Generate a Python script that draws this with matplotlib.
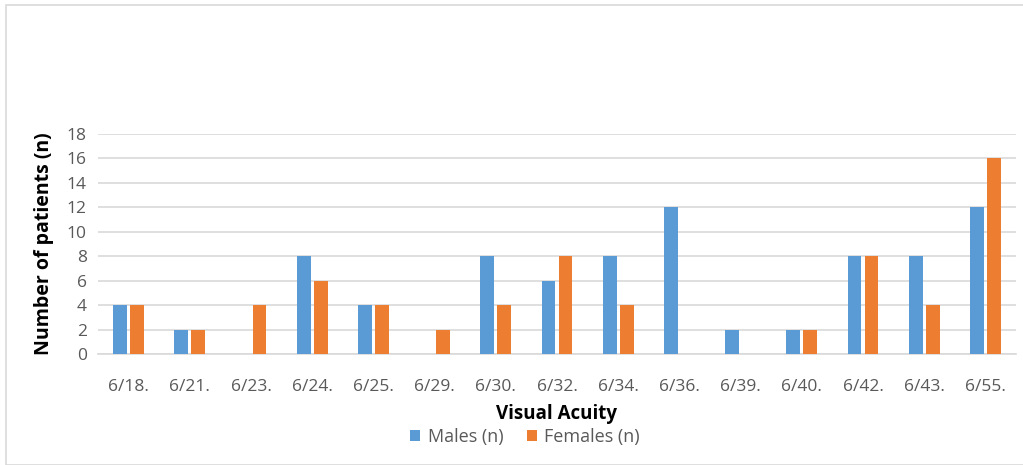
import matplotlib
matplotlib.use("Agg")
import matplotlib.pyplot as plt
import numpy as np
from matplotlib.patches import Rectangle

categories = ["6/18.", "6/21.", "6/23.", "6/24.", "6/25.", "6/29.", "6/30.", "6/32.",
              "6/34.", "6/36.", "6/39.", "6/40.", "6/42.", "6/43.", "6/55."]
males = [4, 2, 0, 8, 4, 0, 8, 6, 8, 12, 2, 2, 8, 8, 12]
females = [4, 2, 4, 6, 4, 2, 4, 8, 4, 0, 0, 2, 8, 4, 16]
yticks = [0, 2, 4, 6, 8, 10, 12, 14, 16, 18]

blue = "#5B9BD5"
orange = "#ED7D31"
gray_text = "#595959"
grid_c = "#D9D9D9"

plt.rcParams['font.family'] = ['Open Sans', 'DejaVu Sans']

W, H = 1023, 465
fig = plt.figure(figsize=(W/100, H/100), dpi=100)

# outer border
fig.patches.append(Rectangle((6/W, 0), 1.0, 1 - 5/H, transform=fig.transFigure,
                             fill=False, edgecolor="#D9D9D9", linewidth=1.2))

ax = fig.add_axes([98/W, 1 - 354/H, (1016-98)/W, (354-134)/H])
x = np.arange(len(categories))
bw = 0.225
off = 0.14
ax.bar(x - off, males, bw, color=blue, label="Males (n)", zorder=3)
ax.bar(x + off, females, bw, color=orange, label="Females (n)", zorder=3)

ax.set_xlim(-0.5, len(categories) - 0.5)
ax.set_ylim(0, 18)
ax.set_yticks(yticks)
ax.set_xticks(x)
ax.set_xticklabels(categories)
ax.yaxis.grid(True, color=grid_c, linewidth=1.2, zorder=0)
ax.set_axisbelow(True)
for s in ["top", "right", "left"]:
    ax.spines[s].set_visible(False)
ax.spines["bottom"].set_color(grid_c)
ax.spines["bottom"].set_linewidth(1.2)
ax.tick_params(axis="both", length=0, labelsize=12.5, colors=gray_text)
ax.tick_params(axis="x", pad=18)
ax.tick_params(axis="y", pad=8)

ax.set_ylabel("Number of patients (n)", fontsize=14, fontweight="bold", color="black", labelpad=9)
fig.text(556/W, 1 - 414/H, "Visual Acuity", fontsize=13.5, fontweight="bold",
         ha="center", va="center")

leg = fig.legend(loc="center", bbox_to_anchor=(525/W, 1 - 437/H), ncol=2, frameon=False,
                 fontsize=13, handlelength=0.55, handleheight=0.55, columnspacing=1.3,
                 handletextpad=0.4)
for t in leg.get_texts():
    t.set_color(gray_text)

fig.savefig("out.png", dpi=100)
